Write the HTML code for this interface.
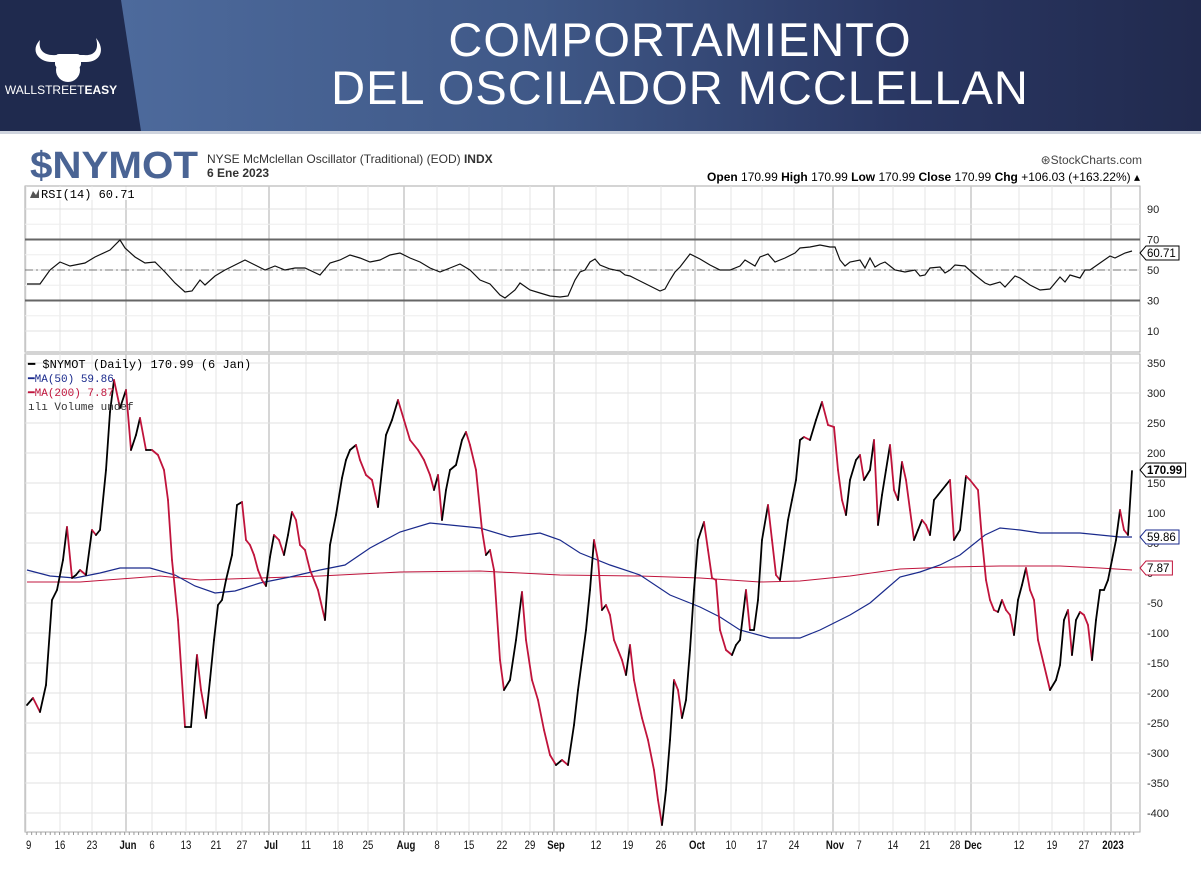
<!DOCTYPE html>
<html><head><meta charset="utf-8">
<style>
body{margin:0;background:#fff;width:1201px;height:872px;overflow:hidden;position:relative;font-family:"Liberation Sans",sans-serif}
#banner{position:absolute;left:0;top:0;width:1201px;height:131px;background:linear-gradient(90deg,#4d6a9c 10%,#3f5887 45%,#2a3763 75%,#212a4e 100%)}
#logo{position:absolute;left:0;top:0;width:142px;height:131px;background:#1f2a4e;clip-path:polygon(0 0,121px 0,141px 131px,0 131px)}
.t{position:absolute;color:#fff;font-size:47px;letter-spacing:1px;white-space:nowrap;text-align:center;width:800px;left:280px}
</style></head><body>
<div id="banner"><div id="logo">
<svg width="142" height="131"><path d="M40 40 C30 50,38 62,52 62 L86 62 C100 62,106 50,96 38 C100 52,92 56,84 55 L56 55 C44 56,38 50,40 40Z" fill="#fff"/>
<circle cx="68" cy="70" r="12" fill="#fff"/><rect x="55" y="54" width="26" height="14" rx="4" fill="#fff"/>
<text x="61" y="94" fill="#fff" font-size="12" text-anchor="middle" font-family="Liberation Sans">WALLSTREET<tspan font-weight="bold">EASY</tspan></text></svg>
</div></div>
<div class="t" style="top:12px">COMPORTAMIENTO</div>
<div class="t" style="top:60px">DEL OSCILADOR MCCLELLAN</div>
<svg id="c" width="1201" height="872" style="position:absolute;left:0;top:0" font-family="Liberation Sans"></svg>
<script>
const S=document.getElementById('c');let h='';
h+='<rect x="0" y="131" width="1201" height="3" fill="#cfd4de"/>';
h+='<text x="30" y="178" font-size="38" font-weight="bold" fill="#4a6494" textLength="168" lengthAdjust="spacingAndGlyphs">$NYMOT</text>';
h+='<text x="207" y="163" font-size="12" fill="#333">NYSE McMclellan Oscillator (Traditional) (EOD) <tspan font-weight="bold">INDX</tspan></text>';
h+='<text x="207" y="177" font-size="12" font-weight="bold" fill="#333">6 Ene 2023</text>';
h+='<text x="1142" y="164" font-size="12" fill="#444" text-anchor="end">⊛StockCharts.com</text>';
h+='<text x="1140" y="181" font-size="12" fill="#000" text-anchor="end"><tspan font-weight="bold">Open</tspan> 170.99  <tspan font-weight="bold">High</tspan> 170.99  <tspan font-weight="bold">Low</tspan> 170.99  <tspan font-weight="bold">Close</tspan> 170.99  <tspan font-weight="bold">Chg</tspan> +106.03 (+163.22%) ▴</text>';
const L=25,R=1140;
const dx=[[26,'9'],[60,'16'],[92,'23'],[128,'Jun',1],[152,'6'],[186,'13'],[216,'21'],[242,'27'],[271,'Jul',1],[306,'11'],[338,'18'],[368,'25'],[406,'Aug',1],[437,'8'],[469,'15'],[502,'22'],[530,'29'],[556,'Sep',1],[596,'12'],[628,'19'],[661,'26'],[697,'Oct',1],[731,'10'],[762,'17'],[794,'24'],[835,'Nov',1],[859,'7'],[893,'14'],[925,'21'],[955,'28'],[973,'Dec',1],[1019,'12'],[1052,'19'],[1084,'27'],[1113,'2023',1]];
function panel(t,b){h+=`<rect x="${L}" y="${t}" width="${R-L}" height="${b-t}" fill="#fff" stroke="#aaa"/>`;
dx.forEach(d=>{let x=d[0]+(d[2]?-2:0);h+=`<line x1="${x}" y1="${t}" x2="${x}" y2="${b}" stroke="${d[2]?'#c8c8c8':'#e4e4e4'}" stroke-width="${d[2]?1.5:1}"/>`;});}
panel(186,352);panel(354,832);
const ry=v=>270-(v-50)*1.525;
[90,70,50,30,10].forEach(v=>{h+=`<line x1="${L}" x2="${R}" y1="${ry(v)}" y2="${ry(v)}" stroke="#e0e0e0"/><text x="1147" y="${ry(v)+4}" font-size="11" fill="#222">${v}</text>`;});
[80,60,40,20].forEach(v=>{h+=`<line x1="${L}" x2="${R}" y1="${ry(v)}" y2="${ry(v)}" stroke="#eee"/>`;});
h+=`<line x1="${L}" x2="${R}" y1="${ry(70)}" y2="${ry(70)}" stroke="#666" stroke-width="2"/><line x1="${L}" x2="${R}" y1="${ry(30)}" y2="${ry(30)}" stroke="#666" stroke-width="2"/><line x1="${L}" x2="${R}" y1="${ry(50)}" y2="${ry(50)}" stroke="#777" stroke-dasharray="8,3,2,3"/>`;
const my=v=>573-v*0.6;
for(let v=350;v>=-400;v-=50){h+=`<line x1="${L}" x2="${R}" y1="${my(v)}" y2="${my(v)}" stroke="#e2e2e2"/><text x="1147" y="${my(v)+4}" font-size="11" fill="#222">${v}</text>`;}
const rsi=[[27,284],[40,284],[50,270],[60,262],[70,266],[85,263],[95,257],[110,250],[120,240],[125,248],[135,257],[145,263],[155,262],[165,272],[175,283],[185,292],[192,291],[200,280],[205,285],[215,276],[225,270],[235,265],[245,260],[255,265],[265,270],[275,266],[285,270],[295,268],[305,268],[320,275],[330,263],[340,260],[350,255],[360,258],[370,262],[380,260],[390,255],[400,253],[410,258],[420,262],[430,268],[440,272],[450,268],[460,264],[470,270],[480,280],[490,284],[500,295],[505,298],[515,290],[520,283],[530,290],[540,293],[550,296],[560,297],[568,296],[575,280],[580,272],[585,270],[590,262],[595,259],[600,265],[610,269],[620,271],[625,275],[630,276],[640,281],[650,286],[660,291],[665,289],[670,280],[675,272],[680,267],[690,254],[700,259],[710,265],[720,270],[730,270],[740,266],[745,260],[755,266],[760,257],[768,254],[775,262],[785,258],[795,253],[800,248],[810,247],[820,245],[830,247],[835,247],[840,260],[845,266],[850,262],[860,260],[865,268],[870,258],[875,267],[880,264],[885,262],[895,270],[905,272],[915,270],[920,276],[925,275],[930,268],[940,267],[945,273],[950,270],[955,265],[965,266],[975,275],[985,283],[990,285],[1000,282],[1005,287],[1015,276],[1020,278],[1030,285],[1040,290],[1050,289],[1060,277],[1065,282],[1070,275],[1080,278],[1085,270],[1090,270],[1100,263],[1110,256],[1115,258],[1125,253],[1132,251]];
h+=`<polyline fill="none" stroke="#111" stroke-width="1.2" points="${rsi.join(' ')}"/>`;
const ma50=[[27,570],[50,576],[75,578],[100,573],[120,568],[150,568],[175,575],[195,586],[215,593],[235,591],[260,583],[290,577],[320,570],[345,565],[370,548],[400,532],[430,523],[450,525],[480,528],[510,537],[540,533],[560,540],[580,553],[610,565],[640,575],[670,595],[700,607],[720,617],[740,630],[770,638],[800,638],[820,630],[850,615],[870,603],[885,590],[900,577],[920,572],[940,565],[960,555],[985,535],[1000,528],[1020,530],[1040,533],[1060,533],[1080,533],[1100,535],[1120,537],[1132,537]];
const ma200=[[27,582],[80,582],[120,579],[160,576],[200,580],[260,578],[320,576],[400,572],[480,571],[560,575],[640,576],[700,578],[760,582],[800,581],[850,576],[900,569],[950,567],[1000,566],[1060,566],[1100,568],[1132,570]];
h+=`<polyline fill="none" stroke="#c0143c" stroke-width="1" points="${ma200.join(' ')}"/>`;
h+=`<polyline fill="none" stroke="#1a2a8c" stroke-width="1.2" points="${ma50.join(' ')}"/>`;
const p=[[27,705],[33,698],[40,712],[46,685],[52,600],[57,590],[63,560],[67,527],[72,578],[76,575],[80,570],[86,575],[92,530],[96,535],[100,530],[106,470],[110,412],[114,380],[120,408],[126,390],[131,450],[136,435],[140,418],[146,450],[152,450],[158,455],[164,470],[168,500],[172,560],[178,620],[185,727],[191,727],[197,655],[201,690],[206,718],[210,680],[214,640],[218,605],[222,600],[226,580],[232,555],[237,505],[242,502],[246,540],[250,545],[254,555],[258,570],[262,580],[266,586],[270,557],[274,535],[279,540],[284,555],[288,535],[292,512],[296,520],[300,545],[305,550],[310,570],[318,590],[325,620],[330,545],[336,515],[342,478],[346,460],[350,450],[356,445],[360,460],[366,475],[372,480],[378,507],[382,470],[386,435],[392,420],[398,400],[404,420],[410,440],[418,450],[424,460],[430,475],[434,490],[438,475],[442,520],[446,490],[450,470],[456,465],[462,440],[466,432],[470,445],[476,470],[482,530],[486,555],[490,550],[494,570],[500,660],[504,690],[510,680],[516,640],[522,592],[526,640],[532,680],[538,700],[544,730],[550,755],[556,765],[562,760],[568,765],[574,725],[578,690],[582,660],[586,630],[590,590],[594,540],[598,560],[602,610],[606,605],[610,615],[614,640],[618,650],[622,660],[626,675],[630,645],[634,680],[638,700],[642,718],[648,740],[654,770],[658,800],[662,825],[666,790],[670,740],[674,680],[678,690],[682,718],[686,700],[690,650],[694,590],[698,540],[704,522],[708,550],[712,578],[716,580],[720,630],[726,650],[732,655],[736,645],[740,640],[746,590],[750,630],[754,630],[758,600],[762,540],[768,505],[772,540],[776,575],[780,580],[784,550],[788,520],[792,500],[796,480],[800,440],[804,437],[810,440],[816,420],[822,402],[828,425],[834,427],[838,470],[842,500],[846,515],[850,480],[856,460],[860,455],[864,480],[870,470],[874,440],[878,525],[882,495],[886,470],[890,445],[894,490],[898,500],[902,462],[906,480],[910,510],[914,540],[918,530],[922,520],[926,525],[930,535],[934,500],[938,495],[942,490],[946,485],[950,480],[954,540],[960,530],[966,476],[970,480],[974,485],[978,490],[982,540],[986,580],[990,600],[994,610],[998,612],[1002,600],[1006,610],[1010,615],[1014,635],[1018,600],[1022,585],[1026,568],[1030,590],[1034,600],[1038,640],[1044,665],[1050,690],[1056,680],[1060,665],[1064,620],[1068,610],[1072,655],[1076,620],[1080,612],[1084,615],[1088,625],[1092,660],[1096,620],[1100,590],[1104,590],[1108,580],[1112,560],[1116,540],[1120,510],[1124,530],[1128,535],[1132,471]];
for(let i=1;i<p.length;i++){const a=p[i-1],b=p[i];const c=b[1]>a[1]?'#c0143c':'#000';h+=`<line x1="${a[0]}" y1="${a[1]}" x2="${b[0]}" y2="${b[1]}" stroke="${c}" stroke-width="1.8" stroke-linecap="round"/>`;}
// legends
h+='<rect x="27" y="187" width="100" height="13" fill="#fff" opacity="0.8"/><path d="M30 198 L33 191 L36 195 L39 189 L39 198Z" fill="#555"/><text x="41" y="198" font-size="12" fill="#000" font-family="Liberation Mono">RSI(14) 60.71</text>';
h+='<text x="28" y="368" font-size="12" font-family="Liberation Mono" fill="#000">━ $NYMOT (Daily) 170.99 (6 Jan)</text>';
h+='<text x="28" y="382" font-size="11" fill="#1a2a8c" font-family="Liberation Mono">━MA(50) 59.86</text>';
h+='<text x="28" y="396" font-size="11" fill="#c0143c" font-family="Liberation Mono">━MA(200) 7.87</text>';
h+='<text x="28" y="410" font-size="11" fill="#333" font-family="Liberation Mono">ılı Volume undef</text>';
function tag(y,t,c,b){h+=`<path d="M1140 ${y} L1146 ${y-7} L${1146+t.length*6.6} ${y-7} L${1146+t.length*6.6} ${y+7} L1146 ${y+7}Z" fill="#fff" stroke="${c}"/><text x="1147" y="${y+4}" font-size="11.5" fill="#000" ${b?'font-weight="bold"':''}>${t}</text>`;}
tag(253,'60.71','#000');tag(470,'170.99','#000',1);tag(537,'59.86','#1a2a8c');tag(568,'7.87','#c0143c');
dx.forEach(d=>{h+=`<text x="${d[0]}" y="849" font-size="12" font-weight="${d[2]?'bold':'normal'}" fill="#111" text-anchor="${d[0]<30?'start':'middle'}" transform="translate(${d[0]},0) scale(0.8,1) translate(${-d[0]},0)">${d[1]}</text>`;});
for(let x=27;x<1138;x+=4.65){h+=`<line x1="${x}" x2="${x}" y1="832" y2="835" stroke="#999"/>`;}
S.innerHTML=h;
</script>
</body></html>
